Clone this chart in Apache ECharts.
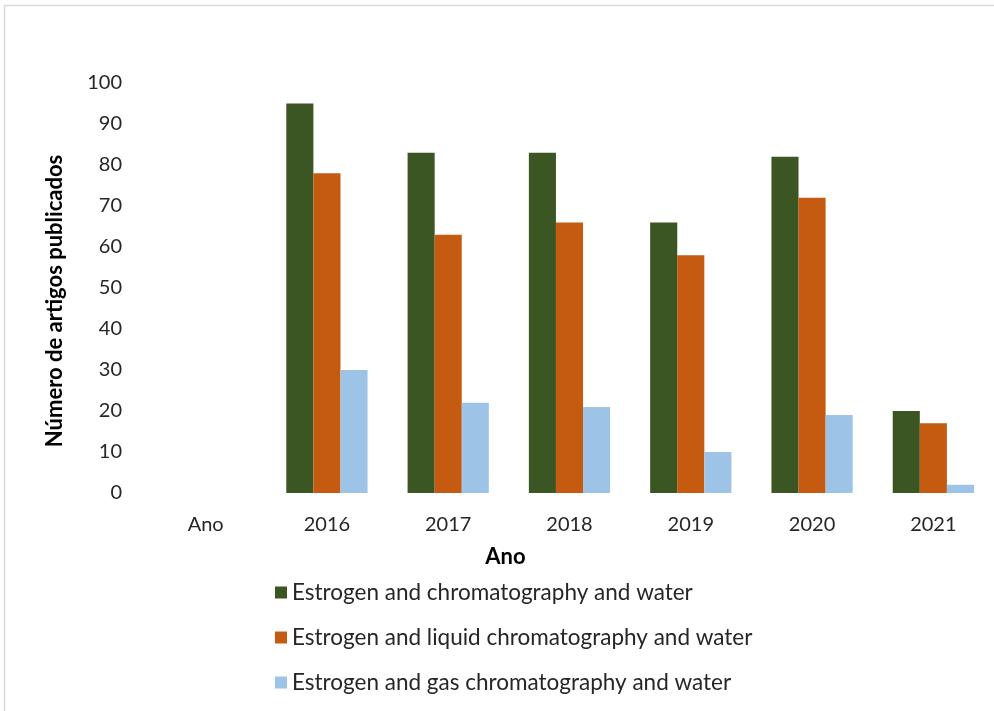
<!DOCTYPE html>
<html>
<head>
<meta charset="utf-8">
<script src="https://cdn.jsdelivr.net/npm/echarts@6/dist/echarts.min.js"></script>
<style>
  html, body { margin: 0; padding: 0; background: #fff; }
  #chart { width: 994px; height: 711px; }
</style>
</head>
<body>
<div id="chart"></div>
<script>
// dados
const categories = ['Ano', '2016', '2017', '2018', '2019', '2020', '2021'];
const seriesNames = [
  'Estrogen and chromatography and water',
  'Estrogen and liquid chromatography and water',
  'Estrogen and gas chromatography and water'
];
const chromWater = [null, 95, 83, 83, 66, 82, 20];
const liquidWater = [null, 78, 63, 66, 58, 72, 17];
const gasWater = [null, 30, 22, 21, 10, 19, 2];
const yTicks = [0, 100, 10]; // min, max, interval

const colors = ['#3B5623', '#C55A11', '#9DC3E6'];
const font = 'Lato, "Liberation Sans", sans-serif';
const textColor = '#262626';

const chart = echarts.init(document.getElementById('chart'));

const values = [chromWater, liquidWater, gasWater];

chart.setOption({
  animation: false,
  color: colors,
  textStyle: { fontFamily: font, color: textColor },
  grid: { left: 145, top: 83, width: 850, height: 410, containLabel: false },
  graphic: [{
    type: 'rect',
    shape: { x: 4.5, y: 5.5, width: 1000, height: 720 },
    style: { fill: 'none', stroke: '#d9d9d9', lineWidth: 1.5 },
    silent: true
  }],
  legend: {
    orient: 'vertical',
    left: 270,
    top: 576,
    itemWidth: 12,
    itemHeight: 12,
    itemGap: 22,
    icon: 'rect',
    textStyle: { fontSize: 22.5, color: textColor, fontFamily: font, padding: [0, 0, 0, 0] },
    data: seriesNames
  },
  xAxis: {
    type: 'category',
    data: categories,
    axisLine: { show: false },
    axisTick: { show: false },
    axisLabel: { fontSize: 20, color: textColor, margin: 22, fontFamily: font },
    name: 'Ano',
    nameLocation: 'middle',
    nameGap: 53,
    nameTextStyle: { fontSize: 22, fontWeight: 'bold', color: '#000', fontFamily: font, padding: [0, 128, 0, 0] }
  },
  yAxis: {
    type: 'value',
    min: yTicks[0],
    max: yTicks[1],
    interval: yTicks[2],
    splitLine: { show: false },
    axisLine: { show: false },
    axisTick: { show: false },
    axisLabel: { fontSize: 20, color: textColor, margin: 23, fontFamily: font },
    name: 'Número de artigos publicados',
    nameLocation: 'middle',
    nameGap: 79,
    nameTextStyle: { fontSize: 22, fontWeight: 'bold', color: '#000', fontFamily: font, padding: [0, 26, 0, 0] }
  },
  series: seriesNames.map((name, i) => ({
    name: name,
    type: 'bar',
    data: values[i],
    barGap: '0%',
    barCategoryGap: '33%',
    itemStyle: { color: colors[i] }
  }))
});
</script>
</body>
</html>
